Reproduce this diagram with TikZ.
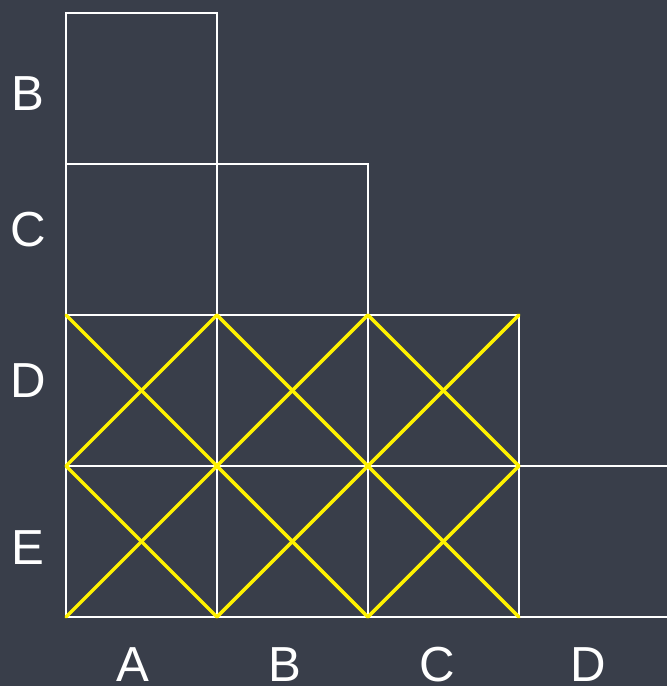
\documentclass[tikz,border=0pt]{standalone}
\usepackage{fontspec}
\setmainfont{Liberation Sans}
\usepackage{xcolor}
\usetikzlibrary{positioning}
\definecolor{slatebg}{RGB}{57,62,74}

\begin{document}
\begin{tikzpicture}[
  x=0.02cm, y=-0.02cm,
  cell/.style={draw=white, line width=1.1pt, minimum width=3.02cm, minimum height=3.02cm, inner sep=0pt, outer sep=0pt},
  cross/.style={draw=yellow, line width=2pt, line cap=round},
  lbl/.style={text=white, font=\fontsize{28}{30}\selectfont, inner sep=0pt}
]
  \fill[slatebg] (0,0) rectangle (667,686);
  \useasboundingbox (0,0) rectangle (667,686);
  \clip (0,0) rectangle (667,686);
  % cells (row, column)
  \node[cell] (BA) at (141.5,88.5) {};
  \node[cell] (CA) at (141.5,239.5) {};
  \node[cell, right=0pt of CA] (CB) {};
  \node[cell] (DA) at (141.5,390.5) {};
  \node[cell, right=0pt of DA] (DB) {};
  \node[cell, right=0pt of DB] (DC) {};
  \node[cell] (EA) at (141.5,541.5) {};
  \node[cell, right=0pt of EA] (EB) {};
  \node[cell, right=0pt of EB] (EC) {};
  \node[cell, right=0pt of EC] (ED) {};
  % yellow crosses
  \foreach \c in {DA,DB,DC,EA,EB,EC}{
    \draw[cross] (\c.north west) -- (\c.south east);
    \draw[cross] (\c.south west) -- (\c.north east);
  }
  % row labels
  \node[lbl] (rB) at (28,94) {B};
  \node[lbl] (rC) at (28,230) {C};
  \node[lbl] (rD) at (28,381) {D};
  \node[lbl] (rE) at (28,548) {E};
  % column labels
  \node[lbl] (cA) at (133,665) {A};
  \node[lbl] (cB) at (285,665) {B};
  \node[lbl] (cC) at (437,665) {C};
  \node[lbl] (cD) at (588,665) {D};
\end{tikzpicture}
\end{document}
